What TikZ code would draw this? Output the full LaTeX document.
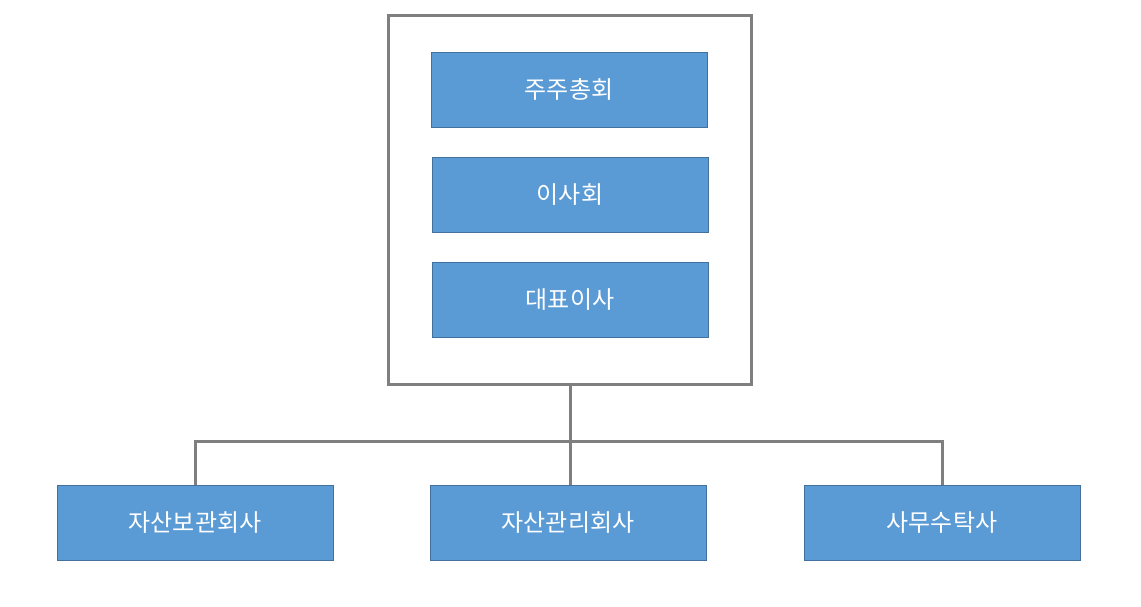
\documentclass[tikz,border=0pt]{standalone}
\usepackage{fontspec}
\setmainfont{Noto Sans CJK KR}
\usetikzlibrary{positioning}
\definecolor{boxblue}{HTML}{5B9BD5}
\definecolor{boxedge}{HTML}{41719C}
\definecolor{linegray}{HTML}{7F7F7F}
\tikzset{
	orgbox/.style={draw=boxedge,fill=boxblue,line width=0.8pt,minimum width=276pt,minimum height=75pt,inner sep=0pt,text=white,font=\fontsize{24}{28}\selectfont},
	link/.style={draw=linegray,line width=3pt},
}
\begin{document}
\begin{tikzpicture}[x=1pt,y=-1pt]
		\useasboundingbox (0,0) rectangle (1141,607);
		
		% outer frame...................
		\draw [link] (388,16) rectangle (751,384);
		\coordinate (frame) at (570,384);
		
		% boxes inside the frame..........
		\node [orgbox] (meeting) at (569,89.5) {주주총회};
		\node [orgbox] (board) at (570,194.5) {이사회};
		\node [orgbox] (ceo) at (570,299.5) {대표이사};
		
		% companies below...................
		\node [orgbox] (custody) at (195,522.5) {자산보관회사};
		\node [orgbox] (manager) at (568,522.5) {자산관리회사};
		\node [orgbox] (admin) at (942,522.5) {사무수탁사};
		
		% connectors..............
		\coordinate (split) at (570,441);
		\draw [link] (frame) -- (split);
		\draw [link] (custody.north) |- (split) -| (admin.north);
		\draw [link] (split) -- (split |- manager.north);
		
	\end{tikzpicture}
\end{document}
